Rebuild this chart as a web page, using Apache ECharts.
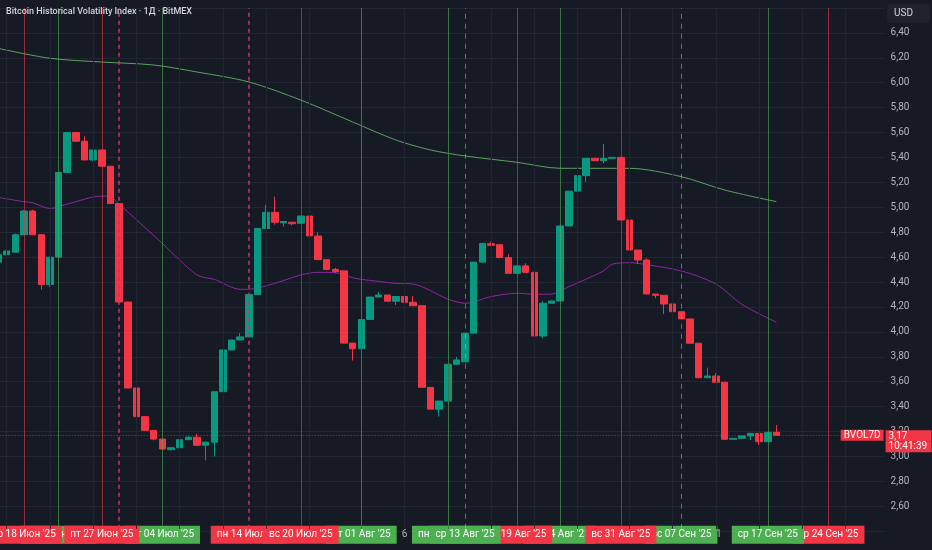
<!DOCTYPE html>
<html>
<head>
<meta charset="utf-8">
<title>BVOL7D</title>
<script src="https://cdn.jsdelivr.net/npm/echarts@6/dist/echarts.min.js"></script>
<style>
  html, body { margin: 0; padding: 0; background: #161a25; }
  #chart { width: 932px; height: 550px; }
</style>
</head>
<body>
<div id="chart"></div>
<script>
// daily bars, Jul 21-25 are absent in the feed
var firstDay = '2025-06-15';
var missingDays = ['2025-07-21', '2025-07-22', '2025-07-23', '2025-07-24', '2025-07-25'];
var slotCount = 103; // bars + empty space on the right

var open  = [4.56,4.62,4.64,4.78,4.97,4.78,4.38,4.60,5.28,5.60, 5.53,5.38,5.46,5.33,5.03,4.24,3.55,3.32,3.21,3.14,
             3.055,3.07,3.135,3.155,3.09,3.115,3.52,3.855,3.935,3.96, 4.30,4.83,4.96,4.876,4.88,4.872,4.93,4.77,4.58,4.502,
             4.49,3.91,3.865,4.10,4.28,4.296,4.246,4.284,4.238,4.21, 3.555,3.38,3.445,3.74,3.76,3.99,4.56,4.708,4.70,4.596,
             4.47,4.53,4.478,3.967,4.23,4.248,4.85,5.13,5.254,5.393, 5.374,5.393,5.401,4.898,4.657,4.577,4.304,4.294,4.224,4.162,
             4.104,3.909,3.632,3.646,3.596,3.138,3.146,3.165,3.186,3.119, 3.194];
var close = [4.62,4.65,4.78,4.97,4.78,4.38,4.60,5.28,5.60,5.53, 5.38,5.46,5.33,5.03,4.24,3.55,3.32,3.21,3.14,3.06,
             3.07,3.135,3.155,3.09,3.115,3.52,3.855,3.935,3.96,4.30, 4.83,4.96,4.88,4.886,4.868,4.93,4.77,4.58,4.50,4.486,
             3.91,3.865,4.10,4.28,4.296,4.246,4.284,4.238,4.21,3.555, 3.38,3.445,3.74,3.775,3.99,4.56,4.71,4.695,4.596,4.47,
             4.53,4.478,3.967,4.23,4.248,4.85,5.13,5.254,5.393,5.374, 5.393,5.401,4.898,4.657,4.577,4.304,4.294,4.224,4.162,4.104,
             3.909,3.632,3.646,3.596,3.138,3.146,3.165,3.186,3.119,3.194, 3.17];
var low   = [4.55,4.60,4.64,4.78,4.78,4.34,4.36,4.60,5.28,5.53, 5.38,5.37,5.33,5.03,4.24,3.55,3.32,3.21,3.13,3.06,
             3.05,3.07,3.135,3.09,2.97,3.00,3.52,3.855,3.935,3.96, 4.30,4.83,4.86,4.845,4.856,4.872,4.77,4.58,4.50,4.473,
             3.91,3.77,3.865,4.10,4.28,4.246,4.216,4.238,4.21,3.555, 3.38,3.32,3.445,3.74,3.76,3.99,4.56,4.695,4.596,4.47,
             4.47,4.478,3.967,3.949,4.23,4.248,4.85,5.112,5.205,5.374, 5.353,5.393,4.898,4.657,4.545,4.304,4.27,4.144,4.162,4.104,
             3.909,3.632,3.632,3.596,3.138,3.138,3.146,3.132,3.092,3.119, 3.17];
var high  = [4.64,4.68,4.79,4.98,4.98,4.78,4.60,5.28,5.60,5.60, 5.57,5.46,5.46,5.33,5.03,4.24,3.55,3.32,3.21,3.14,
             3.07,3.135,3.165,3.18,3.12,3.52,3.855,3.935,3.99,4.30, 4.83,5.02,5.085,4.89,4.88,4.93,4.965,4.80,4.58,4.513,
             4.49,3.91,4.10,4.28,4.32,4.296,4.284,4.328,4.288,4.21, 3.555,3.445,3.74,3.80,3.99,4.56,4.71,4.724,4.70,4.623,
             4.53,4.551,4.478,4.248,4.248,4.85,5.13,5.254,5.393,5.393, 5.508,5.401,5.401,4.92,4.657,4.591,4.304,4.294,4.224,4.162,
             4.104,3.909,3.713,3.668,3.596,3.146,3.165,3.186,3.186,3.194, 3.253];

// moving averages: [bar index, value]
var maFast = [[0,5.08],[3,5.045],[4,5.037],[6,4.99],[8,5.026],[12,5.09],[13,5.085],[14,5.026],[19,4.71],[23,4.457],
              [25,4.422],[28,4.342],[29,4.342],[32,4.39],[35,4.457],[37,4.478],[39,4.475],[41,4.435],[42,4.422],[46,4.39],
              [48,4.384],[52,4.264],[54,4.23],[57,4.283],[60,4.31],[62,4.302],[64,4.304],[66,4.363],[70,4.489],[71,4.543],
              [73,4.555],[74,4.55],[79,4.489],[83,4.384],[86,4.221],[90,4.077]];
var maSlow = [[0,6.276],[6,6.196],[12,6.166],[18,6.142],[23,6.086],[29,6.006],[35,5.861],[41,5.685],[46,5.54],
              [50,5.46],[54,5.412],[60,5.361],[65,5.313],[70,5.313],[73,5.313],[79,5.246],[84,5.139],[90,5.045]];

// signal markers on the time scale
var markerDates = ['2025-06-18','2025-06-22','2025-06-27','2025-06-29','2025-07-04','2025-07-14','2025-07-20','2025-08-01',
                   '2025-08-11','2025-08-13','2025-08-19','2025-08-24','2025-08-31','2025-09-07','2025-09-17','2025-09-24'];
var markerTexts = ["ср 18 Июн '25","вс 22 Июн '25","пт 27 Июн '25","","пт 04 Июл '25","пн 14 Июл '25","вс 20 Июл '25","пт 01 Авг '25",
                   "пн 11 Авг '25","ср 13 Авг '25","вт 19 Авг '25","вс 24 Авг '25","вс 31 Авг '25","вс 07 Сен '25","ср 17 Сен '25","ср 24 Сен '25"];
var markerKinds = ['sell','buy','sell','sellDash','buy','sellDash','sell','buy',
                   'buy','buyDash','sell','buy','sell','buyDash','buy','sell'];
var labelsOnTop = ['2025-08-13', '2025-09-17'];
var plainTicks = ['2025-08-06', '2025-09-11'];
var gridDays = [1, 6, 11, 16, 21, 26];

var priceTime = '10:41:39';
var tickerName = 'BVOL7D';

// price range of the pane and where the vertical lines stop
var yMin = 2.4, yMax = 6.6, yStep = 0.2;
var lineBottom = 2.42;

// ---------------------------------------------------------------
var categories = [];
var dd = new Date(firstDay + 'T00:00:00Z');
while (categories.length < slotCount) {
  var s = dd.toISOString().slice(0, 10);
  if (missingDays.indexOf(s) < 0) categories.push(s);
  dd.setUTCDate(dd.getUTCDate() + 1);
}

var candleData = open.map(function (o, i) { return [o, close[i], low[i], high[i]]; });
var toPairs = function (arr) { return arr.map(function (p) { return [categories[p[0]], p[1]]; }); };

var UP = '#089981', DOWN = '#f23645';
var lineStyles = {
  sell:     { color: 'rgba(242,54,69,0.6)', width: 1, type: 'solid' },
  buy:      { color: 'rgba(76,175,80,0.6)', width: 1, type: 'solid' },
  sellDash: { color: 'rgba(214,48,100,0.75)', width: 2, type: [4, 4] },
  buyDash:  { color: 'rgba(170,180,175,0.55)', width: 1, type: [5, 5] }
};

function vLine(c, style) {
  return [{ xAxis: c, yAxis: lineBottom, lineStyle: style }, { xAxis: c, yAxis: yMax }];
}

var markLines = markerDates.map(function (d, k) { return vLine(d, lineStyles[markerKinds[k]]); });

// faint time grid on the regular tick days
var timeGrid = categories.filter(function (c) {
  return gridDays.indexOf(+c.slice(8)) >= 0;
}).map(function (c) {
  return vLine(c, { color: '#212531', width: 1, type: 'solid' });
});

var lastPrice = close[close.length - 1];
var priceText = lastPrice.toFixed(2).replace('.', ',');

var myChart = echarts.init(document.getElementById('chart'));

function labelLayer(test) {
  return function (value) {
    var k = markerDates.indexOf(value);
    if (k >= 0 && markerTexts[k] && test(k)) {
      var red = markerKinds[k].indexOf('sell') === 0;
      return '{' + (red ? 'r' : 'g') + '|' + markerTexts[k] + '}';
    }
    return '';
  };
}

var rich = {
  r: { backgroundColor: DOWN, color: '#ffffff', fontSize: 10, lineHeight: 11, padding: [4, 6, 4, 6], fontFamily: 'Roboto' },
  g: { backgroundColor: '#4caf50', color: '#ffffff', fontSize: 10, lineHeight: 11, padding: [4, 6, 4, 6], fontFamily: 'Roboto' },
  p: { color: '#b2b5be', fontSize: 10, lineHeight: 11, padding: [4, 2, 4, 2], fontFamily: 'Roboto' }
};

function makeXAxis(formatter) {
  return {
    type: 'category',
    data: categories,
    gridIndex: 0,
    position: 'bottom',
    offset: 0,
    boundaryGap: true,
    axisLine: { show: false, onZero: false },
    axisTick: { show: false },
    axisLabel: { interval: 0, margin: -2, formatter: formatter, rich: rich, hideOverlap: false },
    splitLine: { show: false }
  };
}

var isTop = function (k) { return labelsOnTop.indexOf(markerDates[k]) >= 0; };
var isRed = function (k) { return markerKinds[k].indexOf('sell') === 0; };

var option = {
  backgroundColor: '#161a25',
  animation: false,
  title: [{
    text: 'Bitcoin Historical Volatility Index · 1Д · BitMEX',
    left: 6, top: 7, padding: 0,
    textStyle: { color: '#d1d4dc', fontSize: 9, fontWeight: 500, fontFamily: 'Roboto' }
  }, {
    text: 'USD',
    right: 2, top: 4,
    backgroundColor: '#1e222d',
    borderRadius: 4,
    padding: [4, 17, 4, 7],
    textStyle: { color: '#d1d4dc', fontSize: 10, fontWeight: 'normal', fontFamily: 'Roboto', lineHeight: 11 }
  }],
  grid: { left: -6.3, right: 47.4, top: 7.94, bottom: 18.74, containLabel: false, outerBoundsMode: 'none' },
  xAxis: [
    makeXAxis(function (value) {
      return plainTicks.indexOf(value) >= 0 ? '{p|' + (+value.slice(8)) + '}' : '';
    }),
    makeXAxis(labelLayer(function (k) { return !isRed(k) && !isTop(k); })),
    makeXAxis(labelLayer(function (k) { return isRed(k) && !isTop(k); })),
    makeXAxis(labelLayer(function (k) { return isTop(k); }))
  ],
  yAxis: {
    type: 'value',
    position: 'right',
    min: yMin, max: yMax, interval: yStep,
    axisLine: { show: false },
    axisTick: { show: false },
    axisLabel: {
      color: '#b2b5be', fontSize: 10, margin: 6, fontFamily: 'Roboto',
      showMinLabel: false, showMaxLabel: false,
      formatter: function (v) { return v.toFixed(2).replace('.', ','); }
    },
    splitLine: { lineStyle: { color: '#232733', width: 1 } }
  },
  series: [
    {
      name: 'MA slow',
      type: 'line',
      xAxisIndex: 0,
      data: toPairs(maSlow),
      smooth: 0.3,
      symbol: 'none',
      lineStyle: { color: 'rgba(102,187,106,0.85)', width: 1 },
      z: 3,
      markLine: {
        silent: true,
        symbol: 'none',
        animation: false,
        label: { show: false },
        data: timeGrid
      }
    },
    {
      name: 'MA fast',
      type: 'line',
      xAxisIndex: 0,
      data: toPairs(maFast),
      smooth: 0.3,
      symbol: 'none',
      lineStyle: { color: 'rgba(156,39,176,0.9)', width: 1 },
      z: 3
    },
    {
      name: tickerName,
      type: 'candlestick',
      xAxisIndex: 0,
      data: candleData,
      barWidth: 7,
      itemStyle: { color: UP, color0: DOWN, borderColor: UP, borderColor0: DOWN, borderWidth: 1 },
      z: 4,
      markLine: {
        silent: true,
        symbol: 'none',
        animation: false,
        label: { show: false },
        data: markLines.concat([
          {
            yAxis: lastPrice,
            lineStyle: { color: 'rgba(242,54,69,0.7)', type: [1, 2], width: 1 },
            label: {
              show: true, position: 'end', distance: 1,
              formatter: '{s| }\n{a|' + priceText + '}\n{b|' + priceTime + '}',
              rich: {
                s: { fontSize: 10, lineHeight: 12 },
                a: { backgroundColor: DOWN, color: '#fff', fontSize: 10, lineHeight: 11, width: 40, padding: [1, 3, 0, 3], fontFamily: 'Roboto' },
                b: { backgroundColor: DOWN, color: '#fff', fontSize: 10, lineHeight: 11, width: 40, padding: [0, 3, 1, 3], fontFamily: 'Roboto' }
              }
            }
          },
          {
            yAxis: lastPrice,
            lineStyle: { color: 'rgba(0,0,0,0)', width: 0 },
            label: {
              show: true, position: 'insideEnd', distance: 1,
              formatter: '{n|' + tickerName + '}',
              rich: {
                n: { backgroundColor: DOWN, color: '#fff', fontSize: 10, lineHeight: 11, padding: [1, 3, 0, 3], fontFamily: 'Roboto' }
              }
            }
          }
        ])
      }
    }
  ]
};

myChart.setOption(option);
window.addEventListener('resize', function () { myChart.resize(); });
</script>
</body>
</html>
